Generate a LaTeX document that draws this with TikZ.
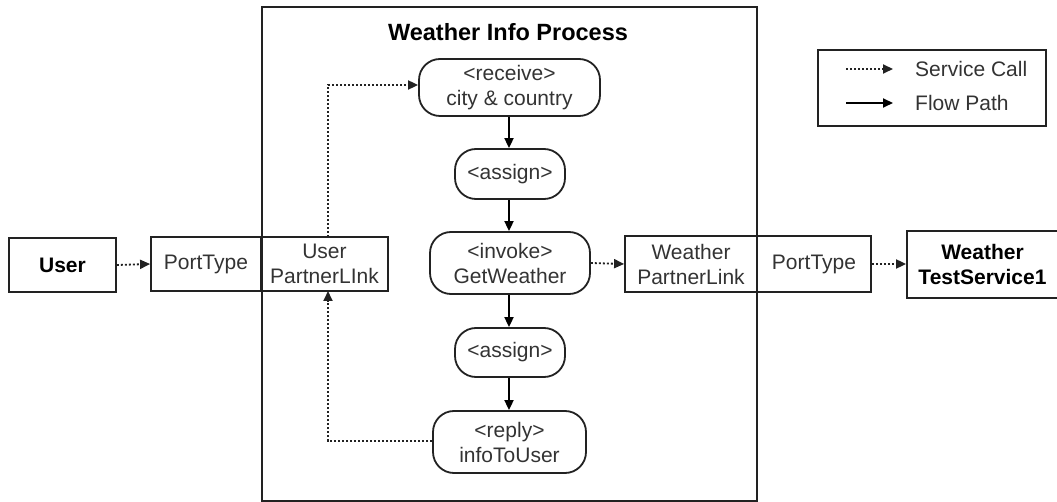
\documentclass[tikz,border=0pt]{standalone}
\usepackage{fontspec}
\setmainfont{Liberation Sans}
\usetikzlibrary{arrows.meta}
\definecolor{ink}{HTML}{222222}
\definecolor{txt}{HTML}{333333}
\begin{document}
\begin{tikzpicture}[x=1pt,y=-1pt,
  base/.style={draw=ink,line width=1.8pt,inner sep=0pt,align=center,
    text=txt,font=\fontsize{21}{25}\selectfont},
  sqbox/.style={base},
  strongbox/.style={base,text=black,font=\fontsize{21}{25}\selectfont\bfseries},
  activity/.style={base,rounded corners=21pt},
  tip/.style={-{Triangle[length=10pt,width=9pt]}},
  flow/.style={draw=black,line width=1.8pt,tip},
  call/.style={draw=ink,line width=1.8pt,dash pattern=on 2pt off 2pt,tip},
  legtext/.style={anchor=west,inner sep=0pt,text=txt,font=\fontsize{21}{25}\selectfont}]
\useasboundingbox (0,0) rectangle (1057,502);

% process container
\node[sqbox,minimum width=495pt,minimum height=494pt] (proc) at (509.5,254) {};
\node[inner sep=0pt,font=\fontsize{23.5}{27}\selectfont\bfseries] (title) at (508,32) {Weather Info Process};

% outside parties
\node[strongbox,minimum width=107pt,minimum height=54pt] (user) at (62.5,265) {User};
\node[strongbox,minimum width=151pt,minimum height=67pt] (svc) at (982.5,264.5) {Weather\\TestService1};

% partner links and port types
\node[sqbox,minimum width=110pt,minimum height=54pt] (uport) at (206,264) {PortType};
\node[sqbox,minimum width=127pt,minimum height=54pt] (upl) at (324.5,264) {User\\PartnerLInk};
\node[sqbox,minimum width=132pt,minimum height=56pt] (wpl) at (691,264) {Weather\\PartnerLink};
\node[sqbox,minimum width=114pt,minimum height=56pt] (wport) at (814,264) {PortType};

% activities
\node[activity,minimum width=181pt,minimum height=57pt] (recv) at (509.5,87.5) {<receive>\\city \& country};
\node[activity,minimum width=110pt,minimum height=50pt] (asg1) at (510,174) {<assign>};
\node[activity,minimum width=160pt,minimum height=62pt] (inv) at (510,263) {<invoke>\\GetWeather};
\node[activity,minimum width=110pt,minimum height=49pt] (asg2) at (510,352.5) {<assign>};
\node[activity,minimum width=153pt,minimum height=62pt] (rep) at (509.5,442) {<reply>\\infoToUser};

% flow path
\draw[flow] (recv.south -| 509,0) -- (asg1.north -| 509,0);
\draw[flow] (asg1.south -| 509,0) -- (inv.north -| 509,0);
\draw[flow] (inv.south -| 509,0) -- (asg2.north -| 509,0);
\draw[flow] (asg2.south -| 509,0) -- (rep.north -| 509,0);

% service calls
\coordinate (upl-top) at (328,237);
\coordinate (upl-bot) at (328,291);
\draw[call] (user.east) -- (uport.west);
\draw[call] (upl-top) |- (recv.west |- 0,85);
\draw[call] (rep.west |- 0,441) -| (upl-bot);
\draw[call] (inv.east) -- (wpl.west);
\draw[call] (wport.east) -- (svc.west |- wport.east);

% legend
\node[sqbox,minimum width=228pt,minimum height=76pt] (legend) at (932,88) {};
\coordinate (lc1) at (846,69);
\coordinate (lc2) at (893,69);
\coordinate (lf1) at (846,103);
\coordinate (lf2) at (893,103);
\draw[call] (lc1) -- (lc2);
\draw[flow] (lf1) -- (lf2);
\node[legtext] (lcall) at (915,69) {Service Call};
\node[legtext] (lflow) at (915,103) {Flow Path};
\end{tikzpicture}
\end{document}
